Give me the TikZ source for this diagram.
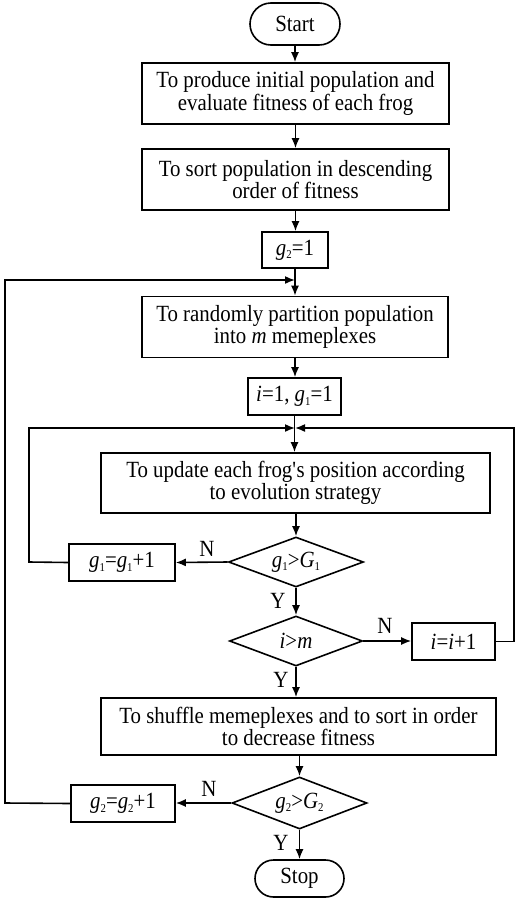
\documentclass[tikz,border=0pt]{standalone}
\usepackage{fontspec}
\setmainfont{Liberation Serif}[FakeStretch=0.9]
\usetikzlibrary{shapes.geometric,shapes.misc,arrows.meta}
\newcommand{\vv}[2]{\textit{#1}\raisebox{-0.35ex}{\fontsize{12}{12}\selectfont #2}}
\begin{document}
\begin{tikzpicture}[x=1pt,y=-1pt,
  font=\fontsize{23.2}{22.5}\selectfont,
  line width=1.6pt,
  >={Latex[length=10pt,width=8pt]},
  box/.style={draw, rectangle, align=center, inner sep=0pt},
  dec/.style={draw, diamond, aspect=2.7, inner sep=0pt},
  term/.style={draw, rounded rectangle, inner sep=0pt},
  lbl/.style={inner sep=0pt}]
\useasboundingbox (0,0) rectangle (515,900);

\node[term, minimum width=90pt, minimum height=42pt] (start) at (295,24) {Start};
\node[box, minimum width=307pt, minimum height=61pt] (b1) at (295.5,93.5)
  {To produce initial population and\\evaluate fitness of each frog};
\node[box, minimum width=307pt, minimum height=61pt] (b2) at (295.5,179.5)
  {To sort population in descending\\order of fitness};
\node[box, minimum width=66pt, minimum height=36pt] (g2init) at (295,250) {\vv{g}{2}=1};
\node[box, minimum width=306pt, minimum height=61pt] (b3) at (295,327)
  {To randomly partition population\\into \textit{m} memeplexes};
\node[box, minimum width=93pt, minimum height=37pt] (iinit) at (294.5,396.5) {\textit{i}=1, \vv{g}{1}=1};
\node[box, minimum width=389pt, minimum height=60pt] (b4) at (295.5,483)
  {To update each frog\textquotesingle s position according\\to evolution strategy};
\node[dec, minimum width=135pt, minimum height=50pt] (d1) at (296,562) {\vv{g}{1}>\vv{G}{1}};
\node[box, minimum width=106pt, minimum height=37pt] (g1inc) at (122,562.5) {\vv{g}{1}=\vv{g}{1}+1};
\node[dec, minimum width=133pt, minimum height=50pt] (d2) at (296,641) {\textit{i}>\textit{m}};
\node[box, minimum width=83pt, minimum height=37pt] (iinc) at (453.5,641.5) {\textit{i}=\textit{i}+1};
\node[box, minimum width=395pt, minimum height=57pt] (b5) at (298.5,726.5)
  {To shuffle memeplexes and to sort in order\\to decrease fitness};
\node[dec, minimum width=135pt, minimum height=52pt] (d3) at (299.5,803) {\vv{g}{2}>\vv{G}{2}};
\node[box, minimum width=104pt, minimum height=37pt] (g2inc) at (123,803.5) {\vv{g}{2}=\vv{g}{2}+1};
\node[term, minimum width=89pt, minimum height=37pt] (stop) at (299.5,878.5) {Stop};

\coordinate (j1) at (295,280);
\coordinate (j2) at (295,428);
\coordinate (lo) at (5,803);
\coordinate (li) at (29,562);
\coordinate (ro) at (514,641.5);

\draw[->] (start.south) -- (start.south |- b1.north);
\draw[->] (b1.south) -- (b1.south |- b2.north);
\draw[->] (b2.south) -- (b2.south |- g2init.north);
\draw[->] (g2init.south) -- (g2init.south |- b3.north);
\draw[->] (b3.south) -- (b3.south |- iinit.north);
\draw[->] (iinit.south) -- (iinit.south |- b4.north);
\draw[->] (b4.south -| d1.north) -- (d1.north);
\draw[->] (d1.west) -- (g1inc.east);
\draw[->] (d1.south) -- (d2.north);
\draw[->] (d2.east) -- (d2.east -| iinc.west);
\draw[->] (d2.south) -- (d2.south |- b5.north);
\draw[->] (b5.south -| d3.north) -- (d3.north);
\draw[->] (d3.west) -- (d3.west -| g2inc.east);
\draw[->] (d3.south) -- (stop.north);

\draw[->] (g2inc.west) -- (lo) -- (lo |- j1) -- (j1);
\draw[->] (g1inc.west) -- (li) -- (li |- j2) -- (j2);
\draw[->] (iinc.east) -- (ro) -- (ro |- j2) -- (j2);

\node[lbl] (n1) at (207,549) {N};
\node[lbl] (y1) at (278,601) {Y};
\node[lbl] (n2) at (385,626) {N};
\node[lbl] (y2) at (281,680) {Y};
\node[lbl] (n3) at (209,789) {N};
\node[lbl] (y3) at (281,843) {Y};
\end{tikzpicture}
\end{document}
